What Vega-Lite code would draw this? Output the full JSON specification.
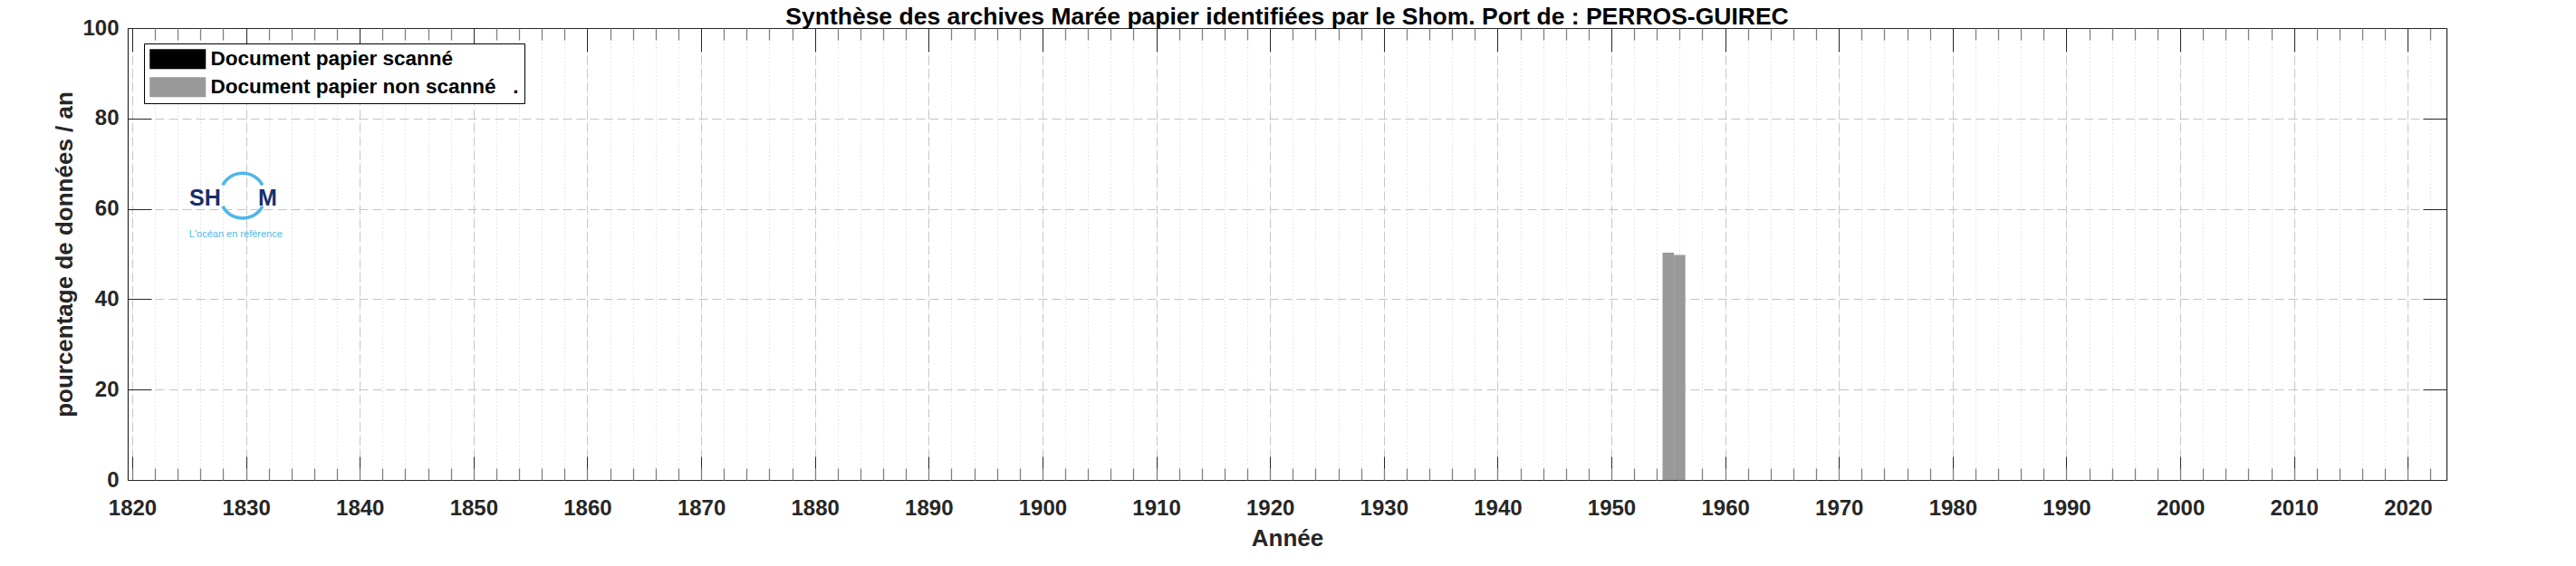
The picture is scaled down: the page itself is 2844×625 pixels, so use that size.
{
  "$schema": "https://vega.github.io/schema/vega-lite/v6.json",
  "width": 2560,
  "height": 499,
  "autosize": "none",
  "padding": {"left": 141, "top": 31, "right": 143, "bottom": 95},
  "background": "white",
  "config": {
    "font": "Liberation Sans",
    "view": {"stroke": null},
    "legend": {"symbolOpacity": 1}
  },
  "title": {
    "text": "Synthèse des archives Marée papier identifiées par le Shom. Port de : PERROS-GUIREC",
    "font": "Liberation Sans",
    "fontSize": 26.5,
    "fontWeight": "bold",
    "color": "#000000",
    "anchor": "middle",
    "frame": "group",
    "baseline": "alphabetic",
    "offset": 0,
    "dy": 34
  },
  "datasets": {
    "archives": [
      {"year": 1955, "type": "Document papier scanné", "pct": 0},
      {"year": 1955, "type": "Document papier non scanné", "pct": 50.3},
      {"year": 1956, "type": "Document papier scanné", "pct": 0},
      {"year": 1956, "type": "Document papier non scanné", "pct": 49.8}
    ],
    "logo": [
      {"label": "SH"}
    ]
  },
  "layer": [
    {
      "data": {"name": "archives"},
      "mark": {"type": "bar", "size": 12.6},
      "encoding": {
        "x": {
          "field": "year",
          "type": "quantitative",
          "scale": {"domain": [1820, 2023], "nice": false, "zero": false},
          "axis": {
            "orient": "bottom",
            "values": [1820, 1830, 1840, 1850, 1860, 1870, 1880, 1890, 1900, 1910, 1920, 1930, 1940, 1950, 1960, 1970, 1980, 1990, 2000, 2010, 2020],
            "format": "d",
            "tickSize": -26,
            "tickColor": "#262626",
            "tickWidth": 1,
            "domainColor": "#262626",
            "domainWidth": 1.2,
            "labelFont": "Liberation Sans",
            "labelFontSize": 24,
            "labelFontWeight": "bold",
            "labelColor": "#262626",
            "labelPadding": 45,
            "labelFlush": false,
            "labelOverlap": false,
            "title": "Année",
            "titleFont": "Liberation Sans",
            "titleFontSize": 26,
            "titleFontWeight": "bold",
            "titleColor": "#262626",
            "titlePadding": 8,
            "grid": true,
            "gridDash": [10, 5],
            "gridColor": "#c4c4c4",
            "gridWidth": 1
          }
        },
        "y": {
          "field": "pct",
          "type": "quantitative",
          "stack": "zero",
          "scale": {"domain": [0, 100], "nice": false},
          "axis": {
            "orient": "left",
            "values": [0, 20, 40, 60, 80, 100],
            "tickSize": -26,
            "tickColor": "#262626",
            "domainColor": "#262626",
            "domainWidth": 1.2,
            "labelFont": "Liberation Sans",
            "labelFontSize": 24,
            "labelFontWeight": "bold",
            "labelColor": "#262626",
            "labelPadding": 36,
            "labelFlush": false,
            "labelOverlap": false,
            "title": "pourcentage de données / an",
            "titleFont": "Liberation Sans",
            "titleFontSize": 26,
            "titleFontWeight": "bold",
            "titleColor": "#262626",
            "titlePadding": 6,
            "grid": true,
            "gridDash": [10, 5],
            "gridColor": "#c4c4c4",
            "gridWidth": 1
          }
        },
        "color": {
          "field": "type",
          "type": "nominal",
          "scale": {
            "domain": ["Document papier scanné", "Document papier non scanné"],
            "range": ["#000000", "#999999"]
          },
          "legend": {
            "orient": "none",
            "legendX": 18,
            "legendY": 17,
            "title": null,
            "symbolType": "M-2.818,-1L2.818,-1L2.818,1L-2.818,1Z",
            "symbolSize": 484,
            "symbolStrokeWidth": 0,
            "symbolOffset": 20,
            "labelFont": "Liberation Sans",
            "labelFontSize": 22.5,
            "labelFontWeight": "bold",
            "labelColor": "#000000",
            "labelOffset": 25,
            "labelLimit": 600,
            "labelExpr": "datum.label == 'Document papier non scanné' ? 'Document papier non scanné\u00a0\u00a0\u00a0.' : datum.label",
            "strokeColor": "#000000",
            "fillColor": "#ffffff",
            "padding": 6,
            "rowPadding": 8
          }
        },
        "order": {"field": "type", "sort": "descending"}
      }
    },
    {
      "data": {"name": "archives"},
      "mark": {"type": "point", "opacity": 0},
      "encoding": {
        "x": {
          "field": "year",
          "type": "quantitative",
          "axis": {
            "orient": "bottom",
            "values": [1820, 1822, 1824, 1826, 1828, 1830, 1832, 1834, 1836, 1838, 1840, 1842, 1844, 1846, 1848, 1850, 1852, 1854, 1856, 1858, 1860, 1862, 1864, 1866, 1868, 1870, 1872, 1874, 1876, 1878, 1880, 1882, 1884, 1886, 1888, 1890, 1892, 1894, 1896, 1898, 1900, 1902, 1904, 1906, 1908, 1910, 1912, 1914, 1916, 1918, 1920, 1922, 1924, 1926, 1928, 1930, 1932, 1934, 1936, 1938, 1940, 1942, 1944, 1946, 1948, 1950, 1952, 1954, 1956, 1958, 1960, 1962, 1964, 1966, 1968, 1970, 1972, 1974, 1976, 1978, 1980, 1982, 1984, 1986, 1988, 1990, 1992, 1994, 1996, 1998, 2000, 2002, 2004, 2006, 2008, 2010, 2012, 2014, 2016, 2018, 2020, 2022],
            "labels": false,
            "title": null,
            "domain": false,
            "minExtent": 0,
            "tickSize": -13,
            "tickColor": "#808080",
            "tickWidth": 1.3,
            "grid": true,
            "gridDash": [1, 3],
            "gridColor": "#cfcfcf",
            "gridWidth": 1
          }
        },
        "y": {
          "field": "pct",
          "type": "quantitative",
          "axis": {
            "orient": "right",
            "values": [0, 20, 40, 60, 80, 100],
            "labels": false,
            "title": null,
            "minExtent": 0,
            "tickSize": -26,
            "tickColor": "#262626",
            "domainColor": "#262626",
            "domainWidth": 1.2,
            "grid": false
          }
        }
      }
    },
    {
      "data": {"name": "archives"},
      "mark": {"type": "point", "opacity": 0},
      "encoding": {
        "x": {
          "field": "year",
          "type": "quantitative",
          "axis": {
            "orient": "top",
            "values": [1820, 1830, 1840, 1850, 1860, 1870, 1880, 1890, 1900, 1910, 1920, 1930, 1940, 1950, 1960, 1970, 1980, 1990, 2000, 2010, 2020],
            "labels": false,
            "title": null,
            "minExtent": 0,
            "maxExtent": 0,
            "tickSize": -26,
            "tickColor": "#262626",
            "domainColor": "#262626",
            "domainWidth": 1.2,
            "grid": false
          }
        },
        "y": {"field": "pct", "type": "quantitative", "axis": null}
      }
    },
    {
      "data": {"name": "archives"},
      "mark": {"type": "point", "opacity": 0},
      "encoding": {
        "x": {
          "field": "year",
          "type": "quantitative",
          "axis": {
            "orient": "top",
            "values": [1822, 1824, 1826, 1828, 1832, 1834, 1836, 1838, 1842, 1844, 1846, 1848, 1852, 1854, 1856, 1858, 1862, 1864, 1866, 1868, 1872, 1874, 1876, 1878, 1882, 1884, 1886, 1888, 1892, 1894, 1896, 1898, 1902, 1904, 1906, 1908, 1912, 1914, 1916, 1918, 1922, 1924, 1926, 1928, 1932, 1934, 1936, 1938, 1942, 1944, 1946, 1948, 1952, 1954, 1956, 1958, 1962, 1964, 1966, 1968, 1972, 1974, 1976, 1978, 1982, 1984, 1986, 1988, 1992, 1994, 1996, 1998, 2002, 2004, 2006, 2008, 2012, 2014, 2016, 2018, 2022],
            "labels": false,
            "title": null,
            "domain": false,
            "minExtent": 0,
            "maxExtent": 0,
            "tickSize": -13,
            "tickColor": "#808080",
            "tickWidth": 1.3,
            "grid": false
          }
        },
        "y": {"field": "pct", "type": "quantitative", "axis": null}
      }
    },
    {
      "data": {"name": "logo"},
      "mark": {"type": "text", "font": "Liberation Sans", "fontSize": 25, "fontWeight": "bold", "color": "#17306a", "baseline": "alphabetic", "align": "center"},
      "encoding": {
        "x": {"datum": 1826.4, "type": "quantitative", "axis": null},
        "y": {"datum": 60.7, "type": "quantitative", "axis": null},
        "text": {"value": "SH"}
      }
    },
    {
      "data": {"name": "logo"},
      "mark": {"type": "text", "font": "Liberation Sans", "fontSize": 25, "fontWeight": "bold", "color": "#17306a", "baseline": "alphabetic", "align": "center"},
      "encoding": {
        "x": {"datum": 1831.9, "type": "quantitative", "axis": null},
        "y": {"datum": 60.7, "type": "quantitative", "axis": null},
        "text": {"value": "M"}
      }
    },
    {
      "data": {"name": "logo"},
      "mark": {"type": "point", "shape": "M-0.88,-0.47A1,1,0,0,1,0.88,-0.47M0.88,0.47A1,1,0,0,1,-0.88,0.47", "filled": false, "size": 2500, "strokeWidth": 3.5, "color": "#4fb8e6", "opacity": 1},
      "encoding": {
        "x": {"datum": 1829.7, "type": "quantitative", "axis": null},
        "y": {"datum": 62.9, "type": "quantitative", "axis": null}
      }
    },
    {
      "data": {"name": "logo"},
      "mark": {"type": "text", "font": "Liberation Sans", "fontSize": 11, "color": "#4fb8e6", "baseline": "middle", "align": "center"},
      "encoding": {
        "x": {"datum": 1829.1, "type": "quantitative", "axis": null},
        "y": {"datum": 54.3, "type": "quantitative", "axis": null},
        "text": {"value": "L'océan en référence"}
      }
    }
  ],
  "resolve": {"axis": {"x": "independent", "y": "independent"}}
}
